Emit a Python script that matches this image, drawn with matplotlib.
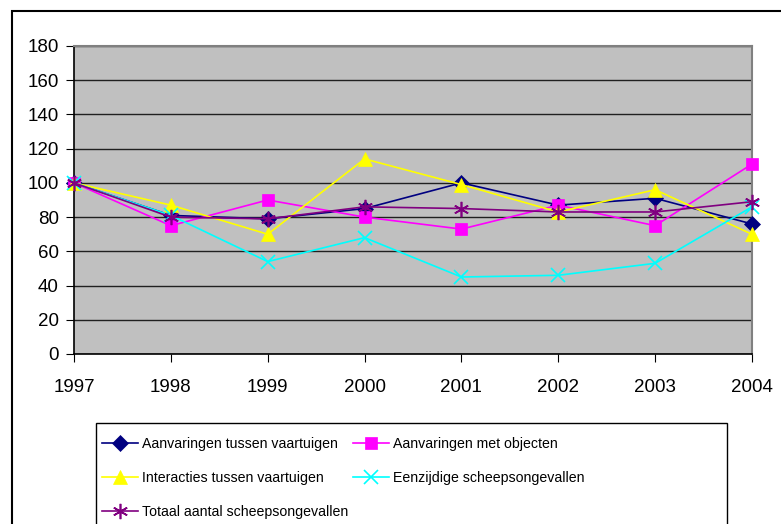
import matplotlib
matplotlib.use("Agg")
import matplotlib.pyplot as plt
from matplotlib.patches import Rectangle

plt.rcParams['font.family'] = ['Liberation Sans', 'DejaVu Sans']

years = ["1997", "1998", "1999", "2000", "2001", "2002", "2003", "2004"]
aanv_vaartuigen = [100, 81, 79, 85, 100, 87, 91, 76]
aanv_objecten = [100, 75, 90, 80, 73, 87, 75, 111]
interacties = [100, 87, 70, 114, 99, 83, 96, 70]
eenzijdig = [100, 81, 54, 68, 45, 46, 53, 86]
totaal = [100, 80, 79, 86, 85, 83, 83, 89]

labels = ["Aanvaringen tussen vaartuigen", "Aanvaringen met objecten",
          "Interacties tussen vaartuigen", "Eenzijdige scheepsongevallen",
          "Totaal aantal scheepsongevallen"]
yticks = [0, 20, 40, 60, 80, 100, 120, 140, 160, 180]

W, H = 781, 524
fig = plt.figure(figsize=(W / 100, H / 100), dpi=100)
ax = fig.add_axes([74 / W, 1 - 354 / H, (752 - 74) / W, (354 - 46) / H])
ax.set_facecolor("#C0C0C0")

x = list(range(len(years)))
series = [
    (aanv_vaartuigen, "#000080", "D", 8, labels[0]),
    (aanv_objecten, "#FF00FF", "s", 9, labels[1]),
    (interacties, "#FFFF00", "^", 10, labels[2]),
    (eenzijdig, "#00FFFF", "x", 10, labels[3]),
    (totaal, "#800080", (6, 2, 0), 11, labels[4]),
]
handles = {}
for vals, col, mk, ms, lab in series:
    ln, = ax.plot(x, vals, color=col, marker=mk, markersize=ms, linewidth=1.2,
                  markeredgewidth=1.2 if mk in ("x",) or isinstance(mk, tuple) else 0.5,
                  markeredgecolor=col, markerfacecolor=col, clip_on=False, zorder=3)
    handles[lab] = ln

tick_fs = 13.5
ax.set_xlim(0, 7)
ax.set_ylim(0, 180)
ax.set_xticks(x)
ax.set_xticklabels(years)
ax.set_yticks(yticks)
ax.yaxis.grid(True, color="#202020", linewidth=1.0)
ax.set_axisbelow(True)
ax.tick_params(axis="x", direction="out", length=6, pad=12, labelsize=tick_fs, color="black")
ax.tick_params(axis="y", direction="out", length=6, pad=5, labelsize=tick_fs, color="black")
for s in ("top", "right"):
    ax.spines[s].set_color("#808080")
    ax.spines[s].set_linewidth(1.5)
for s in ("left", "bottom"):
    ax.spines[s].set_color("black")
    ax.spines[s].set_linewidth(1.2)

# outer chart border
fig.patches.append(Rectangle((12 / W, -0.1), 1.2, 1 - 11 / H + 0.1,
                             transform=fig.transFigure, fill=False,
                             edgecolor="black", linewidth=1.5))
# legend frame
fig.patches.append(Rectangle((96 / W, -0.1), (727 - 96) / W, 1 - 423 / H + 0.1,
                             transform=fig.transFigure, fill=False,
                             edgecolor="black", linewidth=1.0))

leg_fs = 10.2
col1 = [labels[0], labels[2], labels[4]]
col2 = [labels[1], labels[3]]
common = dict(loc="upper left", frameon=False, fontsize=leg_fs,
              handlelength=26 / leg_fs, handletextpad=0.25,
              labelspacing=1.42, borderaxespad=0, borderpad=0)
leg1 = fig.legend([handles[l] for l in col1], col1,
                  bbox_to_anchor=(102 / W, 1 - 437 / H), **common)
leg2 = fig.legend([handles[l] for l in col2], col2,
                  bbox_to_anchor=(353 / W, 1 - 437 / H), **common)

fig.savefig("out.png", dpi=100)
